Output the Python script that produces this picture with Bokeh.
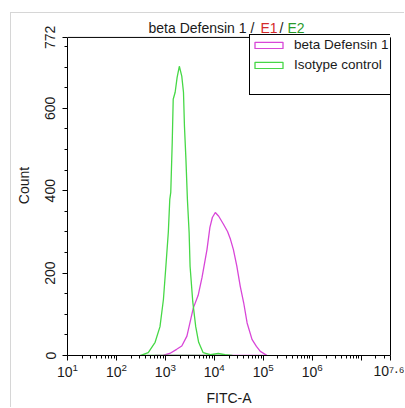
import numpy as np
from bokeh.plotting import figure
from bokeh.models import (Range1d, FixedTicker, Label, Legend, LegendItem,
                          LogTickFormatter, LinearAxis, Span)
from bokeh.embed import file_html
from bokeh.resources import INLINE

FONT = "Liberation Sans"
TXT = "#1a1a1a"

# ---- data (log10 FITC-A intensity, event count) ----
iso_log = [2.48, 2.65, 2.79, 2.89, 2.96, 3.01, 3.06, 3.09, 3.11, 3.14, 3.16, 3.20,
           3.24, 3.285, 3.335, 3.37, 3.39, 3.42, 3.45, 3.485, 3.505, 3.56, 3.62,
           3.68, 3.77, 3.92, 4.08, 4.22, 4.37]
iso_cnt = [0, 7, 32, 70, 136, 216, 299, 379, 396, 517, 622, 639,
           675, 702, 678, 639, 556, 476, 379, 299, 216, 130, 70,
           32, 7, 2, 5, 2, 0]

bd_log = [2.79, 2.96, 3.09, 3.23, 3.335, 3.44, 3.57, 3.67, 3.75, 3.85, 3.91, 3.96,
          4.02, 4.09, 4.19, 4.27, 4.33, 4.39, 4.46, 4.53, 4.60, 4.67, 4.77, 4.86,
          4.94, 5.08]
bd_cnt = [0, 1, 5, 15, 23, 47, 115, 146, 190, 257, 311, 335,
          347, 338, 318, 301, 282, 257, 217, 168, 128, 79, 39, 22,
          10, 0]

series_names = ["beta Defensin 1", "Isotype control"]
x_tick_exps = [1, 2, 3, 4, 5, 6, 7, 7.6]
y_ticks = [0, 200, 400, 600, 772]
x_min_exp, x_max_exp = 1, 7.6
y_max = 772

MAGENTA = "#d846d8"
GREEN = "#46d846"

# ---- geometry (pixels) ----
FIG_W, FIG_H = 394, 395
B_LEFT, B_RIGHT, B_TOP, B_BOTTOM = 56, 15, 2, 52
PLOT_H = 319                      # height of the 0..772 box inside the frame
frame_h = FIG_H - B_TOP - B_BOTTOM
frame_w = FIG_W - B_LEFT - B_RIGHT
y_top = y_max * frame_h / PLOT_H  # frame extends above 772 to hold the title

p = figure(width=FIG_W, height=FIG_H, x_axis_type="log",
           x_range=Range1d(10 ** x_min_exp, 10 ** x_max_exp),
           y_range=Range1d(0, y_top),
           output_backend="svg", toolbar_location=None,
           min_border_left=B_LEFT, min_border_right=B_RIGHT,
           min_border_top=B_TOP, min_border_bottom=B_BOTTOM)
p.styles = {"margin-left": "10px", "margin-top": "12px",
            "border-left": "1px solid #d6d6d6", "border-top": "1px solid #d6d6d6"}

p.xgrid.visible = False
p.ygrid.visible = False
p.outline_line_color = None
p.background_fill_color = "white"
p.border_fill_color = "white"

r_bd = p.patch(10 ** np.array(bd_log), bd_cnt, fill_alpha=0,
               line_color=MAGENTA, line_width=1.3)
r_iso = p.patch(10 ** np.array(iso_log), iso_cnt, fill_alpha=0,
                line_color=GREEN, line_width=1.3)

# top and right edges of the plot box
p.add_layout(Span(location=y_max, dimension="width", line_color="black", line_width=1))
right_ax = LinearAxis(bounds=(0, y_max), ticker=FixedTicker(ticks=[]),
                      axis_line_color="black", major_label_text_font_size="0px")
p.add_layout(right_ax, "right")

# axes
minor_x = [k * 10 ** d for d in range(1, 8) for k in range(2, 10)
           if k * 10 ** d < 10 ** x_max_exp]
p.xaxis[0].ticker = FixedTicker(ticks=[10 ** e for e in x_tick_exps], minor_ticks=minor_x)
p.xaxis[0].formatter = LogTickFormatter()
p.xaxis[0].major_label_overrides = {10 ** 7: "", 10 ** 7.6: "10\u2077\u00b7\u2076"}
p.yaxis[0].ticker = FixedTicker(ticks=y_ticks, minor_ticks=list(range(50, y_max, 50)))
p.yaxis[0].bounds = (0, y_max)
for ax in (p.xaxis[0], p.yaxis[0]):
    ax.axis_line_color = "black"
    ax.major_tick_line_color = "black"
    ax.minor_tick_line_color = "black"
    ax.major_tick_out = 5
    ax.major_tick_in = 0
    ax.minor_tick_out = 3
    ax.minor_tick_in = 0
    ax.major_label_text_font = FONT
    ax.major_label_text_font_size = "14px"
    ax.major_label_text_color = TXT
    ax.axis_label_text_font = FONT
    ax.axis_label_text_font_size = "14px"
    ax.axis_label_text_font_style = "normal"
    ax.axis_label_text_color = TXT

p.yaxis[0].major_label_orientation = "vertical"
p.yaxis[0].major_label_standoff = 7
p.yaxis[0].axis_label = "Count"
p.yaxis[0].axis_label_standoff = 11
p.xaxis[0].axis_label = "FITC-A"
p.xaxis[0].major_label_standoff = 2
p.xaxis[0].axis_label_standoff = 8

# title in three colours (inside the frame, above the 772 line)
title_parts = [("beta Defensin 1 /", TXT, 81), ("E1", "#d42a2a", 193),
               ("/", TXT, 212), ("E2", "#2a9a2a", 220)]
for txt, col, off in title_parts:
    p.add_layout(Label(x=10 ** x_min_exp, y=y_max, x_offset=off, y_offset=9, text=txt,
                       text_align="left", text_baseline="alphabetic",
                       text_font=FONT, text_font_size="14px", text_color=col))

LEG_W, LEG_H = 141, 59
legend = Legend(items=[LegendItem(label=series_names[0], renderers=[r_bd]),
                       LegendItem(label=series_names[1], renderers=[r_iso]),
                       LegendItem(label=" ", renderers=[])],
                location=(frame_w - LEG_W, PLOT_H - LEG_H), margin=0, padding=1, spacing=3,
                glyph_width=35, glyph_height=8, label_height=17, label_standoff=8,
                border_line_color="black", border_line_width=1, border_line_alpha=1,
                background_fill_color="white", background_fill_alpha=1,
                label_text_font=FONT, label_text_font_size="13.5px",
                label_text_color=TXT)
p.add_layout(legend)

open("out.html", "w").write(file_html(p, INLINE))
